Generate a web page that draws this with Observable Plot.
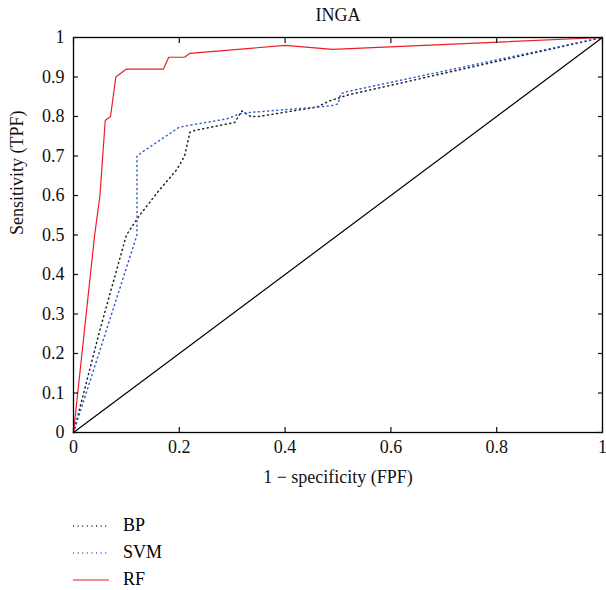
<!DOCTYPE html>
<html><head><meta charset="utf-8">
<script src="https://cdn.jsdelivr.net/npm/d3@7"></script>
<script src="https://cdn.jsdelivr.net/npm/@observablehq/plot@0.6"></script>
<style>
body{margin:0;background:#fff;font-family:'Liberation Serif','Times New Roman','DejaVu Serif',serif;}
#legend{margin-left:73px;font-size:18px;line-height:27px;margin-top:12px}
#legend div{display:flex;align-items:center}
#legend svg{margin-right:14px}
svg text{font-family:'Liberation Serif','Times New Roman','DejaVu Serif',serif !important;}
</style></head><body>
<div id="chart"></div>
<div id="legend"></div>
<script>
const title = "INGA";
const xLabel = "1 − specificity (FPF)";
const yLabel = "Sensitivity (TPF)";
const xTicks = [0, 0.2, 0.4, 0.6, 0.8, 1];
const yTicks = [0, 0.1, 0.2, 0.3, 0.4, 0.5, 0.6, 0.7, 0.8, 0.9, 1];
const seriesNames = ["BP", "SVM", "RF"];
const bpFPF = [0, 0.05, 0.1, 0.125, 0.16, 0.195, 0.21, 0.22, 0.23, 0.305, 0.318, 0.335, 0.35, 0.46, 0.485, 0.52, 1];
const bpTPF = [0, 0.26, 0.5, 0.55, 0.61, 0.665, 0.7, 0.76, 0.765, 0.785, 0.814, 0.8, 0.8, 0.824, 0.84, 0.855, 1];
const svmFPF = [0, 0.12, 0.12, 0.13, 0.2, 0.22, 0.29, 0.315, 0.33, 0.464, 0.49, 0.5, 0.505, 0.517, 1];
const svmTPF = [0, 0.5, 0.7, 0.71, 0.773, 0.778, 0.794, 0.807, 0.81, 0.824, 0.828, 0.832, 0.857, 0.863, 1];
const rfFPF = [0, 0.04, 0.05, 0.06, 0.07, 0.08, 0.1, 0.17, 0.18, 0.21, 0.22, 0.4, 0.49, 1];
const rfTPF = [0, 0.5, 0.6, 0.79, 0.8, 0.9, 0.92, 0.92, 0.95, 0.95, 0.96, 0.98, 0.97, 1];
const diagonal = [0, 1];

const toPts = (xs, ys) => xs.map((x, i) => ({x, y: ys[i]}));
const styles = {
  BP: {stroke: "#222", strokeDasharray: "1,3.6", strokeWidth: 1.5},
  SVM: {stroke: "#3a5bd6", strokeDasharray: "1,3.6", strokeWidth: 1.5},
  RF: {stroke: "#ee1c24", strokeWidth: 1.2}
};
const FONT = "'Liberation Serif','Times New Roman','DejaVu Serif',serif";

const plot = Plot.plot({
  width: 606, height: 500,
  marginLeft: 73, marginRight: 4, marginTop: 37, marginBottom: 68,
  style: {fontFamily: FONT, fontSize: "17px", color: "#111", background: "#fff"},
  x: {domain: [0, 1]},
  y: {domain: [0, 1]},
  marks: [
    Plot.line(toPts(bpFPF, bpTPF), {x: "x", y: "y", ...styles.BP}),
    Plot.line(toPts(svmFPF, svmTPF), {x: "x", y: "y", ...styles.SVM}),
    Plot.line(toPts(rfFPF, rfTPF), {x: "x", y: "y", ...styles.RF}),
    Plot.line(toPts(diagonal, diagonal), {x: "x", y: "y", stroke: "#000", strokeWidth: 1.2}),
    Plot.frame({stroke: "#000", strokeWidth: 1.3}),
    Plot.axisX(xTicks, {anchor: "bottom", tickSize: -5, text: null, label: null, strokeWidth: 1.2}),
    Plot.axisX(xTicks, {anchor: "top", tickSize: -5, text: null, label: null, strokeWidth: 1.2}),
    Plot.axisY(yTicks, {anchor: "left", tickSize: -5, text: null, label: null, strokeWidth: 1.2}),
    Plot.axisY(yTicks, {anchor: "right", tickSize: -5, text: null, label: null, strokeWidth: 1.2}),
    Plot.axisX(xTicks, {anchor: "bottom", tickSize: 0, tickPadding: 8, label: null, tickFormat: d => String(d), fontSize: 18}),
    Plot.axisY(yTicks, {anchor: "left", tickSize: 0, tickPadding: 9, label: null, tickFormat: d => String(d), fontSize: 18}),
    Plot.text([title], {frameAnchor: "top", dy: -29, fontSize: 18}),
    Plot.text([xLabel], {frameAnchor: "bottom", dy: 50, fontSize: 18}),
    Plot.text([yLabel], {frameAnchor: "left", dx: -56, rotate: -90, fontSize: 18})
  ]
});
document.getElementById("chart").appendChild(plot);

const legend = document.getElementById("legend");
for (const name of seriesNames) {
  const s = styles[name];
  const row = document.createElement("div");
  row.innerHTML = `<svg width="36" height="10"><line x1="0" x2="36" y1="5" y2="5" stroke="${s.stroke}" stroke-width="${s.strokeWidth}" ${s.strokeDasharray ? `stroke-dasharray="${s.strokeDasharray}"` : ""}/></svg><span>${name}</span>`;
  legend.appendChild(row);
}
</script>
</body></html>
